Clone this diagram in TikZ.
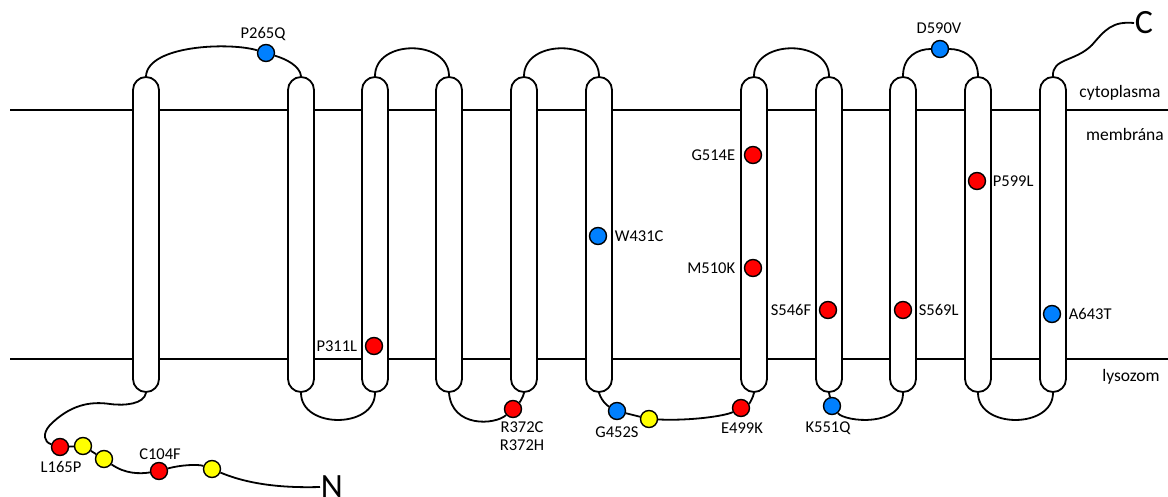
\documentclass[tikz,border=0pt]{standalone}
\usepackage{fontspec}
\setmainfont{Carlito}
\definecolor{sitered}{RGB}{255,0,0}
\definecolor{siteblue}{RGB}{0,128,255}
\definecolor{siteyellow}{RGB}{255,255,0}
\begin{document}
\begin{tikzpicture}[x=1pt,y=-1pt,
  line width=1.8pt,
  helix/.style={draw, fill=white, rounded corners=13pt, minimum width=26pt,
                minimum height=315pt, inner sep=0pt},
  site/.style={circle, draw, line width=1.4pt, minimum size=17pt, inner sep=0pt},
  red/.style={site, fill=sitered},
  blue/.style={site, fill=siteblue},
  yellow/.style={site, fill=siteyellow},
  mut/.style={font=\fontsize{16.5}{18}\selectfont, inner sep=0pt},
  region/.style={font=\fontsize{17.5}{20}\selectfont, inner sep=0pt},
  term/.style={font=\fontsize{34}{36}\selectfont, inner sep=0pt}]
\useasboundingbox (0,0) rectangle (1168,497);

% membrane boundaries
\draw[line width=1.6pt] (10,110) -- (1168,110);
\draw[line width=1.6pt] (10,359) -- (1168,359);

% transmembrane helices
\foreach \n/\x in {1/146,2/301,3/375,4/449,5/524,6/599,7/754,8/829,9/903,10/978,11/1053}
  \node[helix] (h\n) at (\x,234.5) {};

% residues within the membrane
\node[red]  (p311l) at (374,346) {};
\node[blue] (w431c) at (598,236) {};
\node[red]  (g514e) at (753,155) {};
\node[red]  (m510k) at (753,268) {};
\node[red]  (s546f) at (828,310) {};
\node[red]  (s569l) at (903,310) {};
\node[red]  (p599l) at (977,181) {};
\node[blue] (a643t) at (1052,314) {};

% residues in the loops
\node[blue]   (p265q) at (266,53) {};
\node[blue]   (d590v) at (940,49) {};
\node[red]    (r372c) at (513,409) {};
\node[blue]   (g452s) at (617,411) {};
\node[yellow] (y452)  at (649,419) {};
\node[red]    (e499k) at (741,408) {};
\node[blue]   (k551q) at (832,406) {};

% N-terminal tail residues
\node[red]    (l165p) at (60,447) {};
\node[yellow] (ya)    at (83,446) {};
\node[yellow] (yb)    at (104,459) {};
\node[red]    (c104f) at (159,471) {};
\node[yellow] (yc)    at (212,469) {};

% termini
\node[term, anchor=west] (nterm) at (320,487) {N};
\node[term] (cterm) at (1144,23) {C};

% cytoplasmic loops
\draw (h1.north) .. controls (148,45) and (230,42) .. (p265q);
\draw (p265q) .. controls (286,59) and (300,66) .. (h2.north);
\draw (h3.north) .. controls (375,39) and (449,39) .. (h4.north);
\draw (h5.north) .. controls (524,39) and (599,39) .. (h6.north);
\draw (h7.north) .. controls (754,39) and (829,39) .. (h8.north);
\draw (h9.north) .. controls (903,56) and (918,49) .. (d590v);
\draw (d590v) .. controls (962,49) and (978,56) .. (h10.north);

% lysosomal loops
\draw (h2.south) .. controls (301,429) and (375,429) .. (h3.south);
\draw (h4.south) .. controls (452,428) and (495,425) .. (r372c);
\draw (r372c) .. controls (519,403) and (523,398) .. (h5.south);
\draw (h6.south) .. controls (602,402) and (608,406) .. (g452s);
\draw (g452s) -- (y452);
\draw (y452) .. controls (690,421) and (725,416) .. (e499k);
\draw (e499k) .. controls (749,404) and (753,398) .. (h7.south);
\draw (h8.south) -- (k551q);
\draw (k551q) .. controls (845,422) and (903,428) .. (h9.south);
\draw (h10.south) .. controls (978,429) and (1053,429) .. (h11.south);

% N-terminal tail
\draw (h1.south) .. controls (144,404) and (125,406) .. (110,404)
  .. controls (90,401) and (70,405) .. (50,425)
  .. controls (42,434) and (44,442) .. (l165p);
\draw (l165p) -- (ya);
\draw (ya) -- (yb);
\draw (yb) .. controls (125,474) and (140,474) .. (c104f);
\draw (c104f) .. controls (180,465) and (198,464) .. (yc);
\draw (yc) .. controls (250,485) and (285,488) .. (nterm.west);

% C-terminal tail
\draw (h11.north) .. controls (1052,58) and (1075,62) .. (1092,45)
  .. controls (1105,30) and (1112,21) .. (cterm.west);

% mutation labels
\node[mut] at (263,34) {P265Q};
\node[mut] at (939,28) {D590V};
\node[mut, anchor=east] at (358,346) {P311L};
\node[mut, anchor=west] at (614,236) {W431C};
\node[mut, anchor=east] at (736,155) {G514E};
\node[mut, anchor=east] at (736,268) {M510K};
\node[mut, anchor=east] at (812,310) {S546F};
\node[mut, anchor=west] at (918,310) {S569L};
\node[mut, anchor=west] at (992,181) {P599L};
\node[mut, anchor=west] at (1068,314) {A643T};
\node[mut, align=center] at (522,436) {R372C\\R372H};
\node[mut] at (617,432) {G452S};
\node[mut] at (742,428) {E499K};
\node[mut] at (828,428) {K551Q};
\node[mut] at (61,467) {L165P};
\node[mut] at (160,454) {C104F};

% compartments
\node[region] at (1120,93) {cytoplasma};
\node[region] at (1125,134) {membrána};
\node[region] at (1131,377) {lysozom};
\end{tikzpicture}
\end{document}
